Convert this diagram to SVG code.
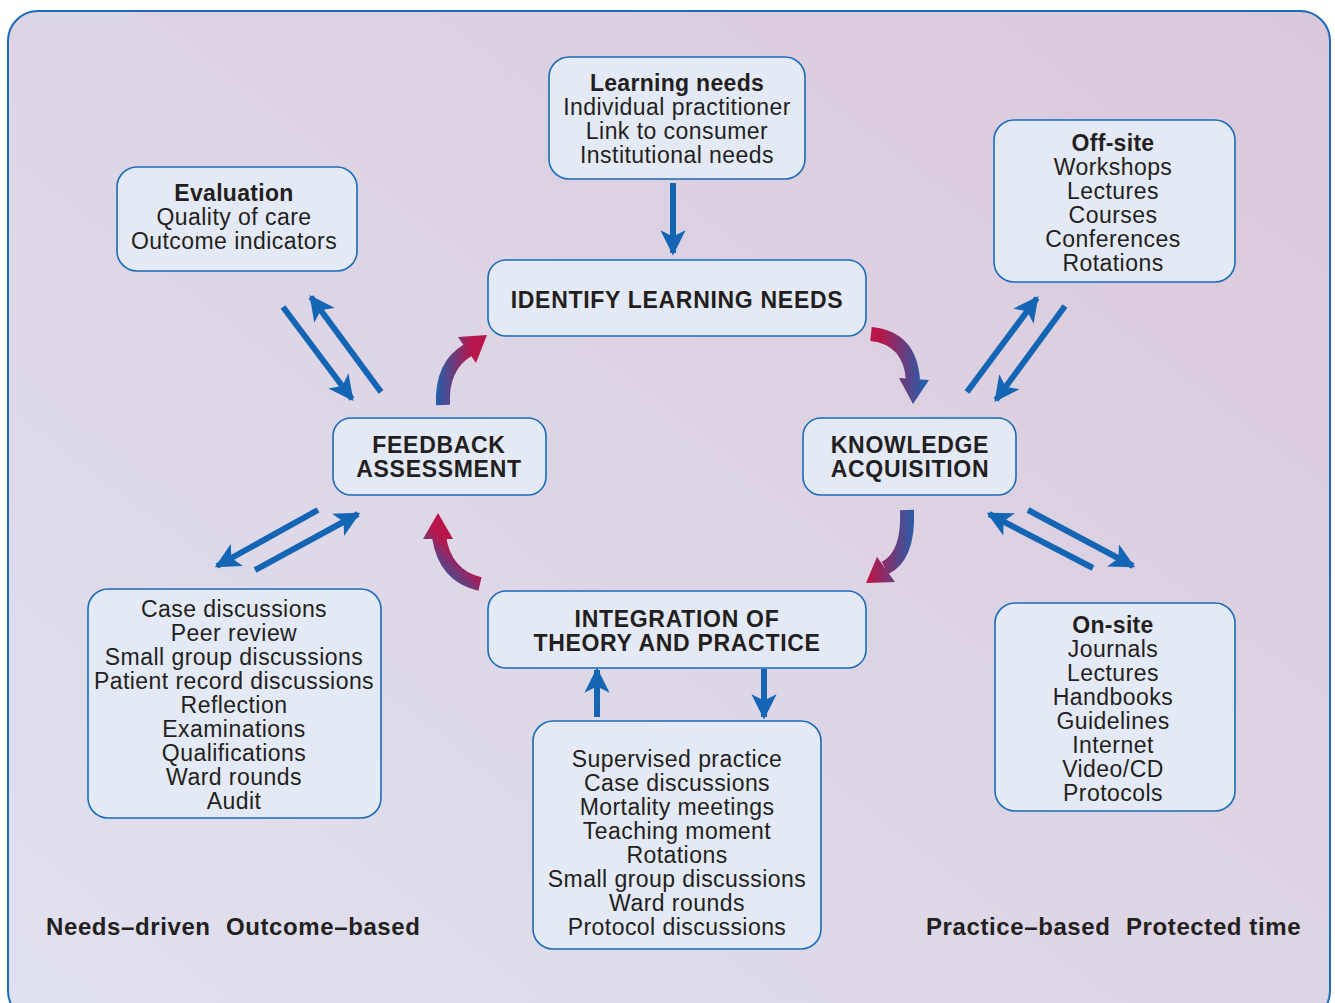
<svg xmlns="http://www.w3.org/2000/svg" width="1335" height="1003" viewBox="0 0 1335 1003">
<defs>
<linearGradient id="bg" x1="0" y1="1" x2="1" y2="0">
<stop offset="0" stop-color="#e0e1ef"/>
<stop offset="1" stop-color="#dac8da"/>
</linearGradient>
<linearGradient id="g1" gradientUnits="userSpaceOnUse" x1="436" y1="0" x2="472" y2="0">
<stop offset="0" stop-color="#2260ad"/><stop offset="1" stop-color="#b8164a"/>
</linearGradient>
<linearGradient id="g2" gradientUnits="userSpaceOnUse" x1="880" y1="0" x2="926" y2="0">
<stop offset="0" stop-color="#b8164a"/><stop offset="1" stop-color="#2260ad"/>
</linearGradient>
<linearGradient id="g3" gradientUnits="userSpaceOnUse" x1="870" y1="0" x2="916" y2="0">
<stop offset="0" stop-color="#b8164a"/><stop offset="1" stop-color="#2260ad"/>
</linearGradient>
<linearGradient id="g4" gradientUnits="userSpaceOnUse" x1="430" y1="570" x2="452" y2="548">
<stop offset="0" stop-color="#2260ad"/><stop offset="1" stop-color="#b8164a"/>
</linearGradient>
<marker id="ah" viewBox="0 0 10 10" refX="9" refY="5" markerWidth="4.2" markerHeight="4.2" orient="auto" markerUnits="strokeWidth">
<path d="M0,0 L10,5 L0,10 L2.5,5 Z" fill="#1565b5"/>
</marker>
<style>
.box{fill:#e3e9f5;stroke:#1a6bb8;stroke-width:1.6}
.t{font-family:"Liberation Sans",Arial,sans-serif;font-size:23px;letter-spacing:0.45px;fill:#231f20;text-anchor:middle}
.b{font-weight:bold;letter-spacing:0.3px}
.h{font-family:"Liberation Sans",Arial,sans-serif;font-size:23px;letter-spacing:0.7px;font-weight:bold;fill:#231f20;text-anchor:middle}
.ln{stroke:#1565b5;stroke-width:6;fill:none;marker-end:url(#ah)}
.ft{font-family:"Liberation Sans",Arial,sans-serif;font-size:24px;letter-spacing:0.6px;font-weight:bold;fill:#231f20}
</style>
</defs>
<rect x="8" y="11" width="1322" height="1010" rx="30" fill="url(#bg)" stroke="#1a6bb8" stroke-width="2"/>

<g id="learning-needs">
<rect class="box" x="549" y="57" width="256" height="122" rx="20"/>
<text class="t" x="677" y="91"><tspan class="b">Learning needs</tspan><tspan x="677" dy="24">Individual practitioner</tspan><tspan x="677" dy="24">Link to consumer</tspan><tspan x="677" dy="24">Institutional needs</tspan></text>
</g>
<g id="identify">
<rect class="box" x="488" y="260" width="378" height="76" rx="18"/>
<text class="h" x="677" y="308">IDENTIFY LEARNING NEEDS</text>
</g>
<g id="evaluation">
<rect class="box" x="117" y="167" width="240" height="104" rx="20"/>
<text class="t" x="234" y="201"><tspan class="b">Evaluation</tspan><tspan x="234" dy="24">Quality of care</tspan><tspan x="234" dy="24">Outcome indicators</tspan></text>
</g>
<g id="offsite">
<rect class="box" x="994" y="120" width="241" height="162" rx="20"/>
<text class="t" x="1113" y="151"><tspan class="b">Off-site</tspan><tspan x="1113" dy="24">Workshops</tspan><tspan x="1113" dy="24">Lectures</tspan><tspan x="1113" dy="24">Courses</tspan><tspan x="1113" dy="24">Conferences</tspan><tspan x="1113" dy="24">Rotations</tspan></text>
</g>
<g id="feedback">
<rect class="box" x="333" y="418" width="213" height="77" rx="18"/>
<text class="h" x="439" y="453"><tspan>FEEDBACK</tspan><tspan x="439" dy="24">ASSESSMENT</tspan></text>
</g>
<g id="knowledge">
<rect class="box" x="803" y="418" width="213" height="77" rx="18"/>
<text class="h" x="910" y="453"><tspan>KNOWLEDGE</tspan><tspan x="910" dy="24">ACQUISITION</tspan></text>
</g>
<g id="feedback-methods">
<rect class="box" x="88" y="589" width="293" height="229" rx="20"/>
<text class="t" x="234" y="617"><tspan>Case discussions</tspan><tspan x="234" dy="24">Peer review</tspan><tspan x="234" dy="24">Small group discussions</tspan><tspan x="234" dy="24">Patient record discussions</tspan><tspan x="234" dy="24">Reflection</tspan><tspan x="234" dy="24">Examinations</tspan><tspan x="234" dy="24">Qualifications</tspan><tspan x="234" dy="24">Ward rounds</tspan><tspan x="234" dy="24">Audit</tspan></text>
</g>
<g id="integration">
<rect class="box" x="488" y="591" width="378" height="77" rx="18"/>
<text class="h" x="677" y="627"><tspan>INTEGRATION OF</tspan><tspan x="677" dy="24">THEORY AND PRACTICE</tspan></text>
</g>
<g id="practice-methods">
<rect class="box" x="533" y="721" width="288" height="228" rx="20"/>
<text class="t" x="677" y="767"><tspan>Supervised practice</tspan><tspan x="677" dy="24">Case discussions</tspan><tspan x="677" dy="24">Mortality meetings</tspan><tspan x="677" dy="24">Teaching moment</tspan><tspan x="677" dy="24">Rotations</tspan><tspan x="677" dy="24">Small group discussions</tspan><tspan x="677" dy="24">Ward rounds</tspan><tspan x="677" dy="24">Protocol discussions</tspan></text>
</g>
<g id="onsite">
<rect class="box" x="995" y="603" width="240" height="208" rx="20"/>
<text class="t" x="1113" y="633"><tspan class="b">On-site</tspan><tspan x="1113" dy="24">Journals</tspan><tspan x="1113" dy="24">Lectures</tspan><tspan x="1113" dy="24">Handbooks</tspan><tspan x="1113" dy="24">Guidelines</tspan><tspan x="1113" dy="24">Internet</tspan><tspan x="1113" dy="24">Video/CD</tspan><tspan x="1113" dy="24">Protocols</tspan></text>
</g>

<g id="connectors">
<line class="ln" x1="673" y1="183" x2="673" y2="253"/>
<line class="ln" x1="283" y1="307" x2="352" y2="399"/>
<line class="ln" x1="381" y1="392" x2="311" y2="297"/>
<line class="ln" x1="967" y1="392" x2="1037" y2="298"/>
<line class="ln" x1="1065" y1="306" x2="996" y2="400"/>
<line class="ln" x1="318" y1="510" x2="217" y2="566"/>
<line class="ln" x1="255" y1="570" x2="358" y2="514"/>
<line class="ln" x1="1093" y1="568" x2="989" y2="514"/>
<line class="ln" x1="1028" y1="510" x2="1133" y2="566"/>
<line class="ln" x1="597" y1="717" x2="597" y2="670"/>
<line class="ln" x1="764" y1="669" x2="764" y2="717"/>
<path d="M443,405 Q441,366 468,350" fill="none" stroke="url(#g1)" stroke-width="14"/>
<polygon points="487,335 458,337 476,363" fill="url(#g1)"/>
<path d="M871,334 Q910,338 913,380" fill="none" stroke="url(#g2)" stroke-width="14"/>
<polygon points="913,404 899,378 929,380" fill="url(#g2)"/>
<path d="M907,510 Q909,556 885,568" fill="none" stroke="url(#g3)" stroke-width="14"/>
<polygon points="866,583 877,557 895,582" fill="url(#g3)"/>
<path d="M480,584 Q445,576 439,537" fill="none" stroke="url(#g4)" stroke-width="14"/>
<polygon points="438,513 423,539 453,539" fill="url(#g4)"/>
</g>

<text class="ft" x="46" y="935">Needs–driven</text>
<text class="ft" x="226" y="935">Outcome–based</text>
<text class="ft" x="926" y="935">Practice–based</text>
<text class="ft" x="1126" y="935">Protected time</text>
</svg>
